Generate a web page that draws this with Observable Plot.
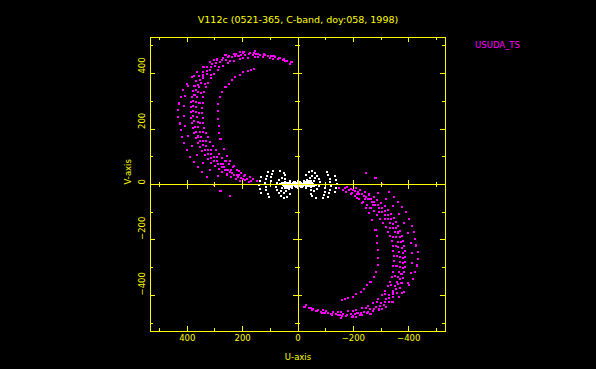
<!DOCTYPE html>
<html><head><meta charset="utf-8">
<script src="https://cdn.jsdelivr.net/npm/d3@7"></script>
<script src="https://cdn.jsdelivr.net/npm/@observablehq/plot@0.6"></script>
<style>html,body{margin:0;padding:0;background:#000;}</style>
</head><body><div id="chart"></div>
<script>
const title = "V112c (0521-365, C-band, doy:058, 1998)";
const legendLabel = "USUDA_TS";
const xLabel = "U-axis";
const yLabel = "V-axis";
const majorTicks = [-400, -200, 0, 200, 400];
const minorTicks = [-500, -300, -100, 100, 300, 500];
const tickLabels = ["\u2212400", "\u2212200", "0", "200", "400"];
const uLimit = 533, vLimit = 530;

// USUDA_TS space-baseline tracks (u, v), one half; conjugates are plotted too
const usudaT1 = [[22,442],[52,454],[88,463],[124,470],[160,474],[197,476],[233,472],[263,466],[293,454],[317,442],[341,424],[365,406],[383,388],[401,364],[414,340],[423,316],[430,292],[432,268],[432,244],[428,220],[423,196],[418,172],[411,148],[401,124],[389,100],[377,81],[363,63],[347,45],[329,27],[305,-3],[280,-24],[247,-42]];
const usudaT2 = [[154,480],[209,479],[259,468],[303,448],[342,423],[375,390],[397,354],[407,318],[411,282],[411,246],[407,210],[397,174],[382,138],[364,106],[342,77],[317,52],[288,30]];
const usudaT3 = [[64,455],[118,468],[172,474],[225,470],[270,457],[312,436],[345,406],[367,372],[380,336],[386,298],[387,260],[384,222],[376,186],[363,151],[346,120],[325,92],[301,67],[273,45],[241,27],[210,14]];
const usudaT3m = [[91,463],[145,472],[198,475],[248,465],[291,448],[329,423],[357,391],[374,354],[384,317],[388,279],[386,241],[380,204],[370,168],[355,135],[336,106],[313,79],[287,56],[257,36],[225,20]];
const usudaT3b = [[40,447],[96,462],[150,470],[205,468],[252,458],[295,438],[330,409],[354,376],[370,340],[378,302],[379,264],[376,228],[368,190],[354,156],[336,125],[314,97],[289,73],[262,52],[232,35],[200,20]];
const usudaT3bm = [[68,455],[123,466],[178,469],[229,463],[274,448],[313,424],[342,393],[362,358],[374,321],[379,283],[378,246],[372,209],[361,173],[345,141],[325,111],[302,85],[276,62],[247,44],[216,28]];
const usudaT4 = [[24,441],[82,458],[136,467],[191,466],[238,458],[281,440],[317,414],[342,384],[358,350],[366,314],[368,278],[366,242],[360,206],[349,172],[334,140],[314,111],[292,85],[266,62],[237,42],[206,25],[177,10]];
const usudaT4m = [[53,450],[109,463],[164,467],[215,462],[260,449],[299,427],[330,399],[350,367],[362,332],[367,296],[367,260],[363,224],[355,189],[342,156],[324,126],[303,98],[279,73],[252,52],[222,33],[192,17]];
const usudaT4b = [[30,436],[90,452],[145,459],[198,456],[245,445],[285,424],[316,396],[337,364],[350,330],[356,294],[357,258],[353,222],[345,188],[332,156],[315,126],[294,98],[270,74],[243,53],[214,35],[184,19]];
const usudaT5 = [[46,446],[100,456],[154,459],[209,452],[252,438],[288,414],[316,384],[333,350],[343,314],[347,276],[345,240],[338,204],[325,170],[308,138],[287,109],[262,84],[234,62],[205,42],[175,26],[148,14]];
const usudaT5m = [[73,451],[127,458],[182,456],[231,445],[270,426],[302,399],[325,367],[338,332],[345,295],[346,258],[342,222],[332,187],[317,154],[298,124],[275,96],[248,73],[220,52],[190,34],[162,20]];
const usudaT6 = [[158,416],[170,413],[182,409],[198,404],[210,395],[226,386],[237,376],[249,364],[262,352],[274,332],[282,314],[288,289],[289,265],[289,235],[286,211],[284,187],[280,163],[268,127],[256,103],[244,85],[231,67],[213,49],[195,31],[171,13]];

// ground-baseline tracks (u, v), one half
const groundWing = [[64,47],[52,43],[46,35],[58,25],[70,15],[76,4],[78,-9],[76,-21],[70,-32],[61,-42],[52,-49],[40,-45],[30,-35],[42,-25],[34,-17],[28,-9],[64,1],[58,-11],[52,7],[61,-23],[52,-32],[46,19],[38,7]];
const groundBar = [[2,4],[10,-4],[18,5],[26,-3],[34,6],[42,-5],[50,3],[6,-10],[14,10],[22,-11],[30,11],[38,-12],[46,10],[54,-2],[0,12],[8,1],[16,-1],[24,1],[32,-1],[40,0],[4,-6],[12,6],[20,-7],[28,7],[36,-7],[44,6],[52,-7],[58,4],[10,9],[26,-10],[48,-11]];
const groundArcs = [[133,26],[137,12],[140,-2],[137,-16],[132,-30],[110,45],[113,32],[116,19],[118,6],[117,-8],[114,-21],[110,-34],[106,-46],[92,50],[94,38],[96,26],[97,14]];

const withConj = (pts) => pts.flatMap(p => [p, [-p[0], -p[1]]]);
const usuda = withConj([...usudaT1, ...usudaT2, ...usudaT3, ...usudaT3m, ...usudaT3b, ...usudaT3bm, ...usudaT4, ...usudaT4m, ...usudaT4b, ...usudaT5, ...usudaT5m, ...usudaT6]);
const ground = withConj([...groundWing, ...groundBar, ...groundArcs]);

const Y = "#ffff00", M = "#ff00ff";
const k = (2 * vLimit) / 294; // data units per pixel
const allTicks = [...majorTicks, ...minorTicks];
const tickLen = (d) => (majorTicks.includes(d) ? 5 : 3) * k;
const crossLen = (d) => (majorTicks.includes(d) ? 4.5 : 2.5) * k;
const nz = allTicks.filter(d => d !== 0);
const rs = {stroke: Y, strokeWidth: 1, shapeRendering: "crispEdges"};

const chart = Plot.plot({
  width: 596, height: 369,
  marginLeft: 150, marginRight: 151, marginTop: 37, marginBottom: 38,
  x: {domain: [uLimit, -uLimit], axis: null},
  y: {domain: [-vLimit, vLimit], axis: null},
  style: {background: "#000", fontFamily: "DejaVu Sans", fontSize: "8.5px"},
  marks: [
    Plot.dot(usuda, {x: d => d[0], y: d => d[1], r: 1.15, symbol: "square", fill: M, stroke: null, shapeRendering: "crispEdges"}),
    Plot.dot(ground, {x: d => d[0], y: d => d[1], r: 1.15, symbol: "square", fill: "#fff", stroke: null, shapeRendering: "crispEdges"}),
    Plot.ruleX([0], rs),
    Plot.ruleY([0], rs),
    Plot.ruleX(nz, {x: d => d, y1: d => -crossLen(d), y2: d => crossLen(d), ...rs}),
    Plot.ruleY(nz, {y: d => d, x1: d => -crossLen(d), x2: d => crossLen(d), ...rs}),
    Plot.ruleX(allTicks, {x: d => d, y1: -vLimit, y2: d => -vLimit + tickLen(d), ...rs}),
    Plot.ruleX(allTicks, {x: d => d, y1: vLimit, y2: d => vLimit - tickLen(d), ...rs}),
    Plot.ruleY(allTicks, {y: d => d, x1: uLimit, x2: d => uLimit - tickLen(d), ...rs}),
    Plot.ruleY(allTicks, {y: d => d, x1: -uLimit, x2: d => -uLimit + tickLen(d), ...rs}),
    Plot.frame({stroke: Y, shapeRendering: "crispEdges"}),
    Plot.text(majorTicks, {x: d => d, text: (d, i) => tickLabels[i], frameAnchor: "bottom", dy: 9, fill: Y}),
    Plot.text(majorTicks, {y: d => d, text: (d, i) => tickLabels[i], frameAnchor: "left", dx: -8, rotate: -90, fill: Y}),
    Plot.text([xLabel], {text: d => d, frameAnchor: "bottom", dy: 28, fill: Y}),
    Plot.text([yLabel], {text: d => d, frameAnchor: "left", dx: -22, rotate: -90, fill: Y}),
    Plot.text([title], {text: d => d, frameAnchor: "top", dy: -21, fill: Y, fontSize: 9.5}),
    Plot.text([legendLabel], {text: d => d, frameAnchor: "top-right", dx: 52, dy: 4.5, textAnchor: "middle", fill: M})
  ]
});
document.getElementById("chart").appendChild(chart);
</script>
</body></html>
